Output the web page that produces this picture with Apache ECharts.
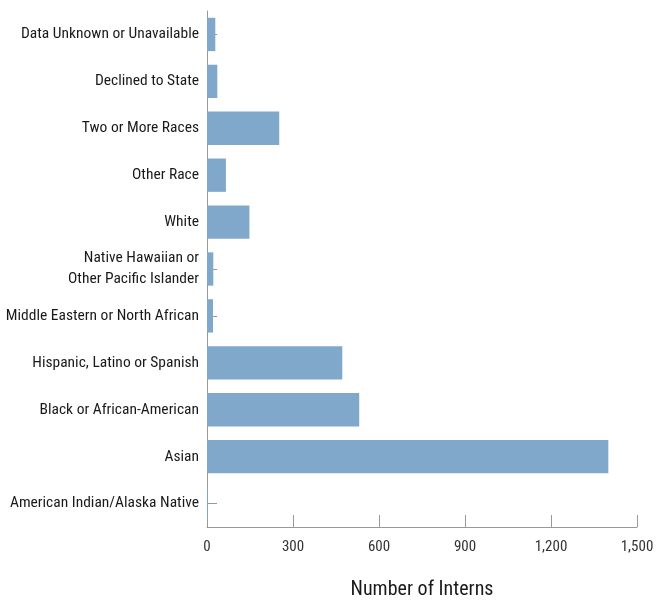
<!DOCTYPE html>
<html>
<head>
<meta charset="utf-8">
<script src="https://cdn.jsdelivr.net/npm/echarts@6/dist/echarts.min.js"></script>
<style>html,body{margin:0;padding:0;background:#fff}#c{width:660px;height:603px}</style>
</head>
<body>
<div id="c"></div>
<script>
var categories = [
  "American Indian/Alaska Native",
  "Asian",
  "Black or African-American",
  "Hispanic, Latino or Spanish",
  "Middle Eastern or North African",
  "Native Hawaiian or\nOther Pacific Islander",
  "White",
  "Other Race",
  "Two or More Races",
  "Declined to State",
  "Data Unknown or Unavailable"
];
var interns = [3, 1400, 531, 472, 21, 22, 148, 66, 252, 36, 29];
var xTicks = [0, 300, 600, 900, 1200, 1500];

var FONT = '"Roboto Condensed", "DejaVu Sans Condensed", sans-serif';
var chart = echarts.init(document.getElementById('c'), null, {renderer: 'canvas'});
chart.setOption({
  animation: false,
  grid: {left: 207, right: 23, top: 11, bottom: 76, containLabel: false, outerBoundsMode: 'none'},
  xAxis: {
    type: 'value', min: xTicks[0], max: xTicks[xTicks.length - 1], interval: 300,
    name: 'Number of Interns', nameLocation: 'middle', nameGap: 53,
    nameTextStyle: {fontFamily: FONT, fontSize: 20, color: '#1a1a1a'},
    axisLine: {show: true, lineStyle: {color: '#999', width: 1}},
    axisTick: {show: true, inside: true, length: 12, lineStyle: {color: '#999'}},
    splitLine: {show: false},
    axisLabel: {fontFamily: FONT, fontSize: 15, color: '#333', margin: 13,
      formatter: function (v) { return v.toLocaleString('en-US'); }}
  },
  yAxis: {
    type: 'category', data: categories,
    axisLine: {show: true, lineStyle: {color: '#999', width: 1}},
    axisTick: {show: true, inside: true, length: 10, alignWithLabel: true, lineStyle: {color: '#999'}},
    axisLabel: {fontFamily: FONT, fontSize: 15.5, color: '#1a1a1a', margin: 8, lineHeight: 21}
  },
  series: [{
    type: 'bar', data: interns, barCategoryGap: '29%',
    itemStyle: {color: '#80a8ca'}
  }]
});
</script>
</body>
</html>
